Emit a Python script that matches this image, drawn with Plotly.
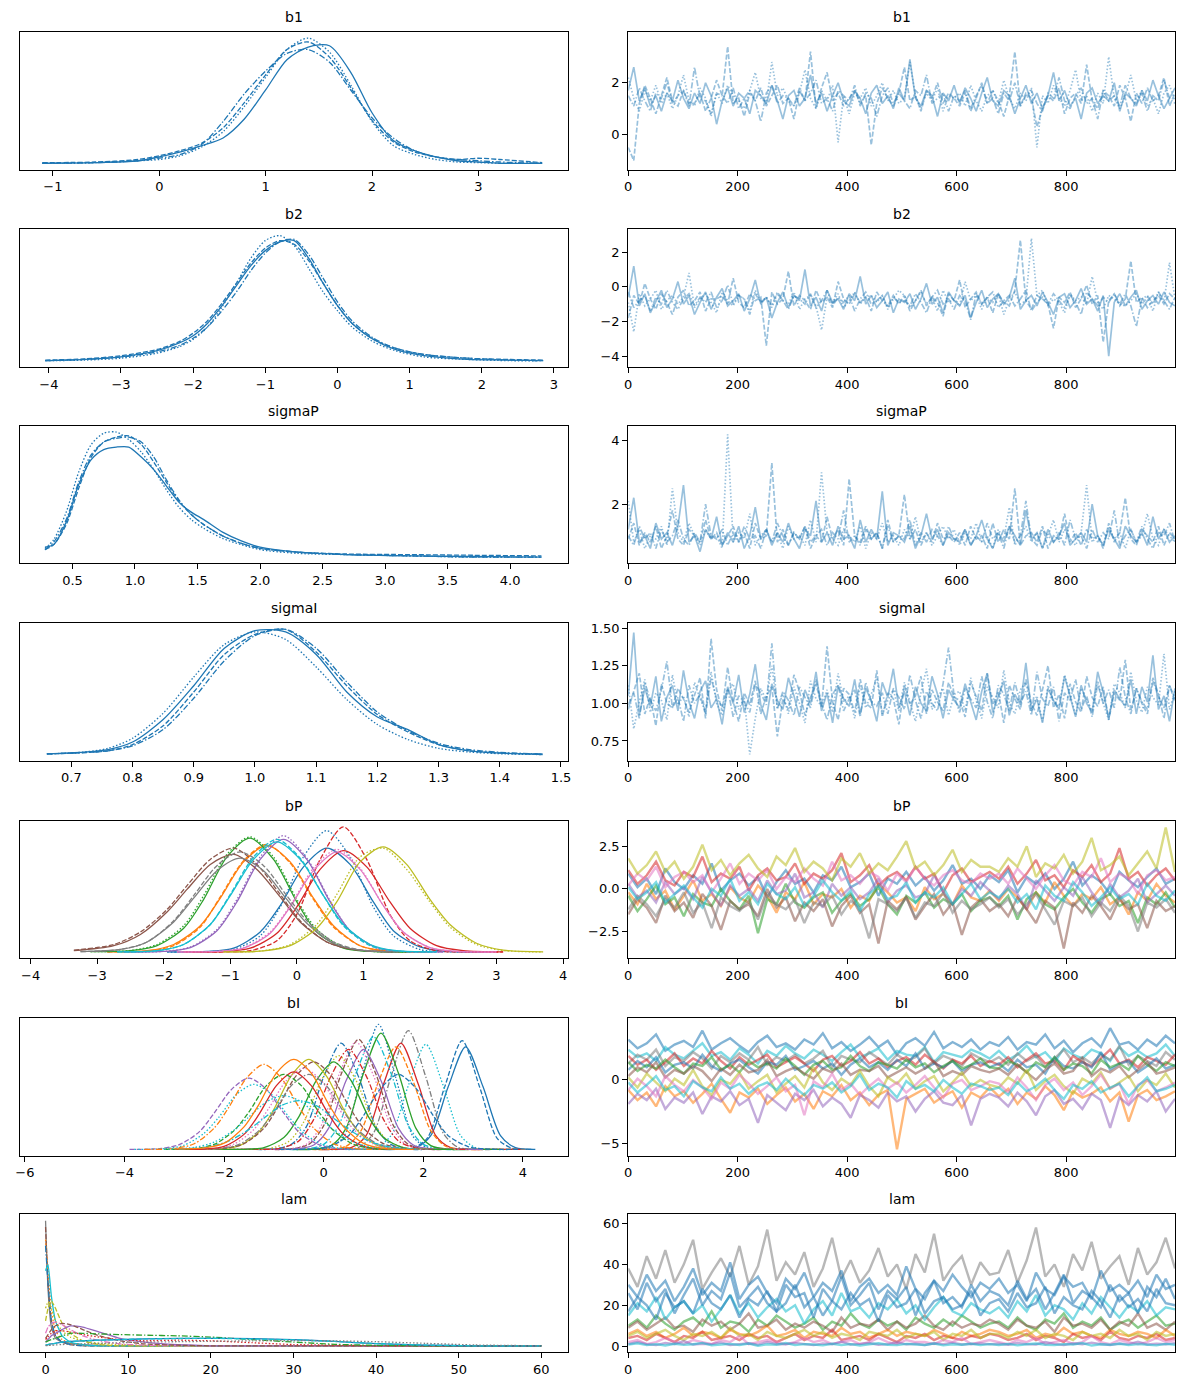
import numpy as np
import plotly.graph_objects as go
from plotly.subplots import make_subplots

# tab10 colours (matplotlib default cycle)
C0, C1, C2, C3, C4 = "#1f77b4", "#ff7f0e", "#2ca02c", "#d62728", "#9467bd"
C5, C6, C7, C8, C9 = "#8c564b", "#e377c2", "#7f7f7f", "#bcbd22", "#17becf"

# chain line styles: solid, dashed, dotted, dash-dot
CHAIN_DASH = ["solid", "5px,2px", "1.5px,2px", "6px,2px,1.5px,2px"]

TITLES = ["b1", "b2", "sigmaP", "sigmaI", "bP", "bI", "lam"]

# ---------------- b1 ----------------
B1_X = [-1.1, -0.6, -0.2, 0, 0.2, 0.4, 0.6, 0.8, 1.0, 1.2, 1.4, 1.6, 1.8, 2.0, 2.2, 2.4, 2.6, 2.8, 3.0, 3.2, 3.6]
B1_KDE = [
    [0, 0.005, 0.02, 0.05, 0.09, 0.14, 0.2, 0.35, 0.58, 0.82, 0.92, 0.93, 0.72, 0.4, 0.18, 0.1, 0.05, 0.02, 0.01, 0.0, 0],
    [0.005, 0.01, 0.03, 0.06, 0.1, 0.16, 0.28, 0.48, 0.7, 0.9, 0.96, 0.84, 0.6, 0.34, 0.17, 0.09, 0.05, 0.03, 0.04, 0.03, 0.005],
    [0, 0.005, 0.02, 0.03, 0.06, 0.13, 0.25, 0.45, 0.68, 0.9, 0.99, 0.88, 0.62, 0.33, 0.14, 0.07, 0.03, 0.01, 0.005, 0, 0],
    [0, 0.005, 0.02, 0.04, 0.07, 0.15, 0.33, 0.55, 0.73, 0.87, 0.9, 0.8, 0.58, 0.36, 0.2, 0.1, 0.05, 0.03, 0.02, 0.01, 0],
]
B1_TRACE = [
    [1.7, 2.6, 1.3, 1.8, 1.1, 1.5, 0.9, 1.6, 1.3, 2.1, 1.4, 1.0, 1.6, 1.2, 2.0, 1.5, 0.4, 1.3, 1.8, 1.1, 1.6, 1.4, 0.8, 1.7, 1.5, 1.2, 1.9, 1.3, 0.6, 1.5,
     1.7, 1.1, 1.4, 2.3, 1.2, 1.6, 0.9, 1.5, 2.0, 1.3, 1.1, 1.7, 1.4, 0.8, 1.6, 1.9, 1.2, 1.5, 1.0, 1.8, 1.3, 2.9, 1.4, 1.1, 1.7, 1.5, 0.7, 1.6, 1.3, 1.9,
     1.2, 1.8, 1.4, 0.9, 1.6, 2.2, 1.3, 1.1, 1.7, 1.5, 0.8, 1.4, 1.9, 1.2, 1.6, 1.0, 1.5, 2.4, 1.3, 1.7, 1.1, 1.4, 0.6, 1.6, 1.8, 1.2, 1.5, 1.3, 2.0, 0.9,
     1.6, 1.4, 1.1, 1.7, 1.3, 2.1, 1.5, 1.0, 1.4, 1.8],
    [-0.5, -1.0, 1.2, 1.9, 1.4, 0.8, 1.5, 2.2, 1.3, 1.1, 1.7, 1.2, 1.2, 1.6, 0.9, 1.4, 2.1, 1.5, 3.4, 1.2, 1.4, 0.7, 1.6, 1.3, 1.8, 1.1, 1.5, 1.9, 1.2, 1.4,
     0.6, 1.7, 1.3, 3.2, 1.0, 1.8, 2.4, 1.3, 1.6, 1.1, 1.4, 1.7, 1.2, 1.5, -0.4, 1.2, 1.8, 1.4, 1.1, 1.6, 2.6, 1.3, 1.5, 0.9, 1.7, 1.4, 2.0, 1.2, 1.6, 1.4,
     1.1, 1.6, 0.9, 1.4, 2.0, 1.2, 1.7, 1.3, 0.7, 1.5, 3.2, 1.1, 1.6, 1.4, 0.3, 1.0, 1.5, 1.3, 1.8, 0.8, 1.4, 1.6, 1.2, 2.7, 1.3, 1.0, 1.7, 1.5, 1.1, 1.9,
     1.4, 0.5, 1.6, 1.2, 1.8, 1.3, 1.5, 2.2, 1.1, 1.6],
    [2.2, 1.4, 0.9, 1.7, 1.3, 1.9, 1.2, 1.6, 1.0, 1.5, 2.3, 1.3, 1.1, 1.8, 1.4, 0.7, 1.6, 1.2, 1.9, 1.5, 1.3, 1.0, 1.7, 2.4, 1.4, 1.2, 2.8, 1.5, 1.8, 1.3,
     1.1, 1.6, 2.5, 1.4, 1.0, 1.7, 1.3, 1.9, -0.3, 1.5, 0.8, 1.6, 1.4, 1.8, 1.1, 1.5, 2.0, 1.3, 1.7, 1.2, 1.4, 2.8, 1.5, 1.0, 1.6, 1.3, 1.8, 0.9, 1.5, 1.4,
     1.6, 1.1, 1.9, 1.3, 0.9, 1.5, 1.7, 1.2, 2.1, 1.4, 1.0, 1.6, 1.3, 1.8, -0.5, 1.5, 1.2, 1.9, 1.4, 1.1, 1.7, 2.5, 1.3, 1.5, 0.9, 1.6, 1.2, 3.0, 1.4, 1.0,
     1.5, 2.3, 1.3, 1.7, 1.1, 1.4, 0.8, 1.6, 1.9, 1.3],
    [1.5, 1.1, 1.8, 1.3, 0.9, 1.6, 1.4, 2.0, 1.2, 1.5, 1.7, 1.1, 2.6, 1.4, 1.3, 0.8, 1.6, 1.5, 1.2, 1.8, 1.0, 1.4, 1.7, 1.3, 0.5, 1.6, 1.9, 1.2, 1.5, 1.4,
     1.1, 1.8, 1.3, 1.6, 2.1, 1.2, 1.4, 0.9, 1.7, 1.5, 1.3, 1.9, 1.1, 1.6, 1.4, 0.7, 1.5, 1.8, 1.2, 1.6, 1.3, 1.0, 1.7, 1.5, 2.3, 1.2, 1.4, 1.6, 0.9, 1.5,
     1.3, 1.7, 1.0, 1.5, 1.9, 1.2, 1.4, 0.8, 1.6, 1.3, 2.0, 1.1, 1.5, 1.7, 1.2, 0.9, 1.6, 1.4, 2.2, 1.3, 1.0, 1.5, 1.8, 1.2, 1.4, 0.6, 1.7, 1.3, 1.5, 1.1,
     1.9, 1.4, 1.2, 1.6, 0.9, 1.5, 1.3, 2.1, 1.4, 1.2],
]

# ---------------- b2 ----------------
B2_X = [-4.05, -3.5, -3, -2.5, -2.2, -2, -1.8, -1.6, -1.4, -1.2, -1.0, -0.8, -0.6, -0.4, -0.2, 0, 0.2, 0.5, 0.8, 1.2, 1.8, 2.4, 2.85]
B2_KDE = [
    [0, 0.01, 0.03, 0.08, 0.14, 0.2, 0.3, 0.44, 0.6, 0.76, 0.88, 0.95, 0.96, 0.82, 0.62, 0.44, 0.3, 0.17, 0.09, 0.04, 0.01, 0.005, 0],
    [0.005, 0.015, 0.04, 0.09, 0.15, 0.22, 0.32, 0.46, 0.62, 0.78, 0.9, 0.96, 0.93, 0.8, 0.62, 0.44, 0.3, 0.17, 0.1, 0.05, 0.02, 0.01, 0.005],
    [0, 0.005, 0.02, 0.06, 0.11, 0.17, 0.27, 0.43, 0.62, 0.82, 0.96, 1.0, 0.92, 0.74, 0.55, 0.4, 0.27, 0.15, 0.08, 0.03, 0.01, 0, 0],
    [0, 0.01, 0.03, 0.07, 0.12, 0.18, 0.27, 0.4, 0.55, 0.72, 0.86, 0.95, 0.97, 0.85, 0.66, 0.47, 0.32, 0.18, 0.1, 0.05, 0.02, 0.005, 0],
]
B2_TRACE = [
    [-0.6, 1.2, -1.1, -0.4, -1.5, -0.8, -0.2, -1.2, -0.7, 0.3, -1.0, -0.5, -1.6, -0.9, -0.3, -1.3, -0.6, -0.1, -1.1, -0.8, -0.4, -1.4, -0.7, 0.4, -1.0,
     -0.6, -1.8, -0.9, -0.3, -1.2, -0.5, -0.8, 1.0, -1.1, -0.6, -1.4, -0.2, -0.9, -0.7, -1.3, -0.4, -0.8, 0.6, -1.0, -0.5, -1.2, -0.8, -0.3, -1.5, -0.7,
     -0.9, -0.4, -1.3, -0.7, 0.2, -1.0, -0.6, -1.5, -0.3, -0.8, -1.1, -0.5, -1.8, -0.9, -0.2, -1.2, -0.7, -0.4, -1.0, -0.6, 0.5, -1.3, -0.8, -0.5, -1.1,
     -0.3, -0.9, -1.6, -0.6, -0.4, -1.2, -0.8, -0.1, -1.0, -0.7, -1.4, -0.5, -4.0, -0.9, -0.4, -1.1, -0.6, -0.2, -1.3, -0.8, -0.5, -1.0, -0.3, -0.9, -1.1],
    [-1.8, -0.5, -1.0, 0.2, -0.7, -1.3, -0.4, -0.9, -1.6, -0.6, -0.2, -1.1, -0.8, -0.3, -1.4, -0.7, -0.7, -0.5, -1.0, 0.5, -0.9, -1.2, -0.4, -0.8, -0.6,
     -3.4, -0.3, -1.0, -0.7, 0.9, -1.1, -0.5, -0.8, -1.3, -0.2, -0.9, -0.6, -1.2, 0.3, -0.7, -1.0, -0.4, -0.9, -0.6, -1.4, -0.3, -0.8, -1.1, -0.5, -1.0,
     -0.5, -1.4, -0.8, -0.2, -1.1, -0.6, -0.9, -1.7, -0.4, -0.8, 0.4, -1.2, -0.7, -0.3, -1.0, -0.6, -1.5, -0.4, -0.9, -1.1, -0.2, 2.7, -0.8, -1.3, -0.5,
     -0.7, -1.0, -2.4, -0.6, -0.9, -0.3, -1.2, -0.7, 0.1, -1.0, -0.5, -3.2, -0.8, -0.4, -1.1, -0.7, 1.5, -0.9, -0.6, -1.2, -0.8, -0.5, -1.0, -0.4, -0.7],
    [-0.9, -2.6, -0.4, -1.1, -0.7, -0.2, -1.3, -0.8, -0.5, -1.0, -0.6, 0.8, -1.2, -0.7, -0.4, -0.9, -1.5, -0.3, -0.8, -1.1, -0.5, -0.7, -1.4, -0.2, -0.9,
     -0.6, -1.2, -0.4, -0.8, -1.0, -0.3, -1.3, -0.7, -0.5, -1.1, -2.5, -0.6, -0.9, -0.4, -1.2, -0.8, -0.3, -1.0, -0.6, -0.5, -0.9, -0.5, -1.3, -0.7, -0.2,
     -0.5, -1.2, -0.8, -0.3, -1.0, -0.6, -1.4, -0.2, -0.9, -0.7, -1.1, 0.3, -0.8, -0.5, -1.3, -0.6, -0.9, -0.4, -1.6, -0.7, -0.3, -1.0, -0.8, 2.8, -0.5,
     -0.2, -1.1, -0.7, -0.9, -1.5, -0.4, -0.8, -0.6, -1.0, 0.6, -0.9, -1.3, -0.5, -0.7, -1.0, -1.1, -0.8, -0.4, -1.0, -0.6, -1.4, -0.3, -0.9, 1.4, -0.7],
    [-0.3, -1.2, -0.8, -0.5, -1.4, -0.6, -1.0, -0.2, -0.9, -1.3, -0.7, -0.4, -1.1, -0.6, -0.9, -0.3, -1.2, -0.8, 0.1, -1.0, -0.5, -0.7, -1.6, -0.4, -0.9,
     -0.6, -1.1, -0.3, -0.8, -1.3, -0.5, -0.7, -1.0, -0.4, -1.2, -0.8, -0.2, -1.1, -0.6, -0.9, -0.5, -1.4, -0.7, -0.3, -1.0, -0.8, -0.5, -1.2, -0.6, -0.9,
     -0.8, -1.1, -0.4, -0.9, -1.5, -0.6, -0.2, -1.0, -0.7, -1.3, -0.5, -0.8, -1.9, -0.4, -1.0, -0.6, -0.3, -1.2, -0.8, -0.5, -1.1, -0.7, -0.2, -1.4, -0.9,
     -0.6, -1.0, -0.4, -0.8, -1.2, -0.5, -0.9, -1.6, -0.3, -0.7, -1.1, -0.6, -0.9, -0.4, -1.0, -0.4, -1.1, -2.3, -0.7, -0.5, -1.0, -0.3, -0.8, -1.3, -0.6],
]

# ---------------- sigmaP ----------------
SP_X = [0.28, 0.35, 0.45, 0.55, 0.65, 0.75, 0.85, 0.95, 1.05, 1.15, 1.25, 1.35, 1.45, 1.55, 1.7, 1.85, 2.0, 2.3, 2.7, 3.2, 3.7, 4.25]
SP_KDE = [
    [0.08, 0.1, 0.28, 0.58, 0.78, 0.86, 0.88, 0.88, 0.8, 0.7, 0.57, 0.44, 0.36, 0.3, 0.2, 0.13, 0.08, 0.04, 0.02, 0.01, 0.005, 0],
    [0.06, 0.1, 0.26, 0.55, 0.8, 0.92, 0.96, 0.97, 0.9, 0.76, 0.6, 0.45, 0.34, 0.26, 0.17, 0.11, 0.07, 0.04, 0.025, 0.02, 0.015, 0.01],
    [0.07, 0.14, 0.36, 0.68, 0.9, 0.99, 1.0, 0.94, 0.84, 0.7, 0.54, 0.4, 0.3, 0.23, 0.15, 0.1, 0.06, 0.03, 0.02, 0.01, 0, 0],
    [0.06, 0.12, 0.3, 0.6, 0.82, 0.92, 0.95, 0.96, 0.92, 0.8, 0.62, 0.46, 0.34, 0.26, 0.17, 0.11, 0.07, 0.04, 0.02, 0.01, 0, 0],
]
SP_TRACE = [
    [1.2, 2.2, 0.8, 1.0, 0.6, 1.4, 0.9, 1.1, 0.7, 1.3, 2.6, 0.8, 1.0, 0.5, 1.2, 0.9, 1.6, 0.7, 1.1, 0.8, 1.3, 0.6, 1.0, 1.9, 0.9, 1.2, 0.7, 1.1, 0.8, 1.4,
     0.9, 0.6, 1.2, 1.0, 2.1, 0.8, 1.1, 0.7, 1.3, 0.9, 1.0, 0.6, 1.5, 0.8, 1.2, 0.9, 2.4, 0.7, 1.1, 1.0, 0.8, 1.3, 0.6, 1.0, 1.7, 0.9, 1.2, 0.7, 1.1, 0.9,
     0.8, 1.2, 0.7, 1.0, 1.5, 0.9, 0.6, 1.1, 0.8, 1.3, 1.0, 0.7, 1.8, 0.9, 1.1, 0.6, 1.2, 0.8, 1.0, 1.4, 0.7, 0.9, 1.1, 0.8, 2.0, 1.0, 0.7, 1.2, 0.9, 0.6,
     1.3, 1.0, 0.8, 1.1, 0.7, 1.6, 0.9, 1.2, 0.8, 1.0],
    [0.9, 1.4, 0.7, 1.1, 0.8, 1.3, 0.6, 1.0, 1.8, 0.9, 0.7, 1.2, 1.0, 0.8, 1.5, 0.9, 1.1, 0.7, 1.0, 1.3, 0.8, 1.1, 0.6, 1.4, 0.9, 1.0, 3.3, 0.8, 1.2, 0.7,
     1.1, 0.9, 1.3, 0.6, 1.0, 0.8, 1.6, 0.9, 1.2, 0.7, 2.8, 1.0, 0.8, 1.3, 0.9, 1.1, 0.6, 1.5, 0.8, 1.0, 2.3, 0.9, 1.2, 0.7, 1.1, 0.8, 1.4, 0.9, 1.0, 0.8,
     1.1, 0.7, 1.3, 0.9, 1.0, 0.6, 1.4, 0.8, 1.2, 0.9, 2.5, 0.7, 1.0, 1.1, 0.8, 1.3, 0.6, 1.0, 0.9, 1.7, 0.8, 1.1, 0.7, 1.2, 0.9, 1.0, 0.6, 1.4, 0.8, 1.1,
     2.2, 0.9, 0.7, 1.2, 1.0, 0.8, 1.3, 0.7, 1.1, 0.9],
    [2.1, 0.8, 1.2, 0.6, 1.0, 0.9, 1.3, 0.7, 2.5, 1.1, 0.8, 1.4, 1.0, 0.7, 1.2, 0.9, 1.0, 0.6, 4.2, 0.8, 1.1, 0.9, 1.7, 0.7, 1.0, 1.2, 0.8, 1.1, 0.6, 1.3,
     0.9, 1.0, 0.7, 1.5, 0.8, 3.0, 1.1, 0.9, 0.7, 1.2, 1.0, 0.8, 1.3, 0.6, 1.1, 0.9, 1.4, 0.8, 1.0, 0.7, 1.2, 0.9, 1.6, 0.8, 1.1, 0.7, 1.0, 1.3, 0.9, 1.2,
     0.7, 1.1, 0.9, 1.4, 0.8, 1.0, 0.6, 1.2, 0.9, 1.9, 0.7, 1.0, 1.3, 0.8, 1.1, 0.6, 1.0, 1.5, 0.8, 1.2, 0.9, 0.7, 1.1, 2.6, 0.8, 1.0, 0.7, 1.3, 0.9, 1.1,
     0.6, 1.2, 0.8, 1.0, 1.7, 0.9, 0.7, 1.2, 1.0, 0.8],
    [1.0, 0.7, 1.3, 0.9, 1.1, 0.6, 1.2, 0.8, 1.0, 1.5, 0.9, 0.7, 1.1, 0.8, 2.0, 1.0, 0.9, 1.2, 0.7, 1.1, 0.8, 1.3, 0.9, 1.0, 0.6, 1.2, 0.8, 1.4, 1.0, 0.7,
     1.1, 0.9, 1.3, 0.8, 1.0, 1.2, 0.7, 1.1, 0.9, 1.8, 0.8, 1.0, 0.7, 1.2, 0.9, 1.1, 0.6, 1.3, 0.8, 1.0, 0.9, 1.5, 0.7, 1.1, 0.8, 1.2, 1.0, 0.7, 1.3, 0.9,
     0.9, 1.2, 0.7, 1.0, 0.8, 1.4, 0.9, 1.1, 0.6, 1.3, 0.8, 1.0, 2.1, 0.9, 0.7, 1.2, 1.0, 0.8, 1.1, 0.7, 1.5, 0.9, 1.0, 0.6, 1.2, 0.8, 1.1, 0.9, 1.8, 0.7,
     1.0, 1.2, 0.8, 1.3, 0.9, 0.6, 1.1, 1.0, 1.4, 0.8],
]

# ---------------- sigmaI ----------------
SI_X = [0.66, 0.72, 0.76, 0.8, 0.85, 0.9, 0.95, 1.0, 1.05, 1.1, 1.15, 1.2, 1.25, 1.3, 1.35, 1.41, 1.47]
SI_KDE = [
    [0.005, 0.02, 0.04, 0.1, 0.28, 0.55, 0.85, 0.99, 0.98, 0.8, 0.5, 0.3, 0.2, 0.08, 0.03, 0.01, 0],
    [0.005, 0.015, 0.03, 0.08, 0.23, 0.5, 0.8, 0.96, 1.0, 0.82, 0.55, 0.32, 0.18, 0.08, 0.03, 0.01, 0.005],
    [0.005, 0.02, 0.05, 0.13, 0.33, 0.62, 0.88, 0.98, 0.92, 0.7, 0.44, 0.24, 0.12, 0.05, 0.02, 0.005, 0],
    [0.005, 0.015, 0.03, 0.07, 0.2, 0.45, 0.75, 0.95, 1.0, 0.85, 0.58, 0.34, 0.19, 0.09, 0.04, 0.015, 0.005],
]
SI_TRACE = [
    [1.05, 1.47, 0.92, 1.10, 0.98, 1.18, 0.88, 1.04, 1.12, 0.95, 1.22, 1.01, 0.90, 1.08, 1.15, 0.97, 1.03, 0.86, 1.11, 1.00, 1.19, 0.94, 1.06, 1.26,
     0.99, 0.89, 1.13, 1.02, 0.96, 1.17, 1.05, 0.91, 1.09, 1.00, 1.21, 0.95, 1.07, 0.87, 1.12, 1.03, 0.98, 1.16, 0.93, 1.10, 1.02, 0.88, 1.14, 1.04,
     1.23, 0.97, 1.08, 0.92, 1.11, 1.00, 0.95, 1.18, 1.06, 0.90, 1.09, 1.02, 0.97, 1.13, 1.01, 0.89, 1.08, 1.20, 0.94, 1.04, 1.15, 0.92, 1.06, 0.99,
     1.27, 0.95, 1.03, 0.87, 1.10, 1.02, 0.96, 1.18, 1.05, 0.91, 1.12, 1.00, 0.94, 1.21, 1.07, 0.90, 1.09, 1.03, 0.98, 1.16, 0.93, 1.11, 1.01, 1.32,
     0.96, 1.05, 0.88, 1.10],
    [0.96, 1.08, 1.20, 0.93, 1.04, 0.85, 1.13, 1.00, 0.97, 1.10, 1.03, 0.94, 1.06, 1.17, 0.90, 1.43, 1.09, 0.95, 1.24, 1.01, 0.88, 1.07, 0.99, 1.15,
     0.93, 1.05, 1.11, 0.78, 1.03, 0.96, 1.19, 1.08, 0.92, 1.04, 1.13, 0.98, 1.38, 1.01, 0.89, 1.10, 1.06, 0.94, 1.16, 1.00, 0.97, 1.22, 0.91, 1.07,
     1.03, 0.86, 1.12, 0.99, 1.05, 1.18, 0.93, 1.09, 1.01, 0.95, 1.14, 1.04, 1.02, 0.91, 1.14, 1.05, 0.95, 1.20, 0.99, 1.08, 0.87, 1.12, 1.03, 0.96,
     1.16, 1.00, 0.92, 1.09, 1.25, 0.97, 1.06, 0.90, 1.13, 1.01, 0.94, 1.18, 1.04, 0.98, 1.11, 0.89, 1.07, 1.02, 1.29, 0.95, 1.10, 1.00, 0.93, 1.15,
     1.05, 0.97, 1.12, 1.01],
    [1.12, 0.83, 1.01, 1.16, 0.94, 1.07, 1.02, 0.89, 1.19, 0.99, 1.05, 0.91, 1.14, 1.03, 0.95, 1.21, 1.00, 0.92, 1.08, 1.13, 0.96, 1.04, 0.66, 0.90,
     1.10, 1.02, 1.25, 0.97, 1.06, 0.93, 1.11, 1.00, 0.87, 1.15, 1.03, 0.98, 1.09, 0.94, 1.20, 1.01, 1.05, 0.90, 1.12, 0.97, 1.06, 1.17, 0.93, 1.02,
     1.09, 0.95, 1.14, 1.01, 0.88, 1.07, 1.23, 0.96, 1.04, 1.10, 0.92, 1.06, 1.08, 0.95, 1.17, 1.02, 0.90, 1.11, 1.04, 0.97, 1.22, 1.00, 0.93, 1.09,
     1.14, 0.96, 1.05, 0.88, 1.12, 1.01, 0.98, 1.19, 1.06, 0.92, 1.10, 1.03, 0.95, 1.15, 1.00, 0.89, 1.13, 1.07, 0.97, 1.21, 1.02, 0.94, 1.11, 1.04,
     0.99, 1.33, 0.96, 1.08],
    [0.99, 1.07, 0.90, 1.14, 1.02, 0.95, 1.09, 1.28, 0.97, 1.04, 0.88, 1.12, 1.00, 1.06, 0.93, 1.17, 1.03, 0.98, 1.10, 0.91, 1.05, 1.01, 0.94, 1.13,
     1.07, 0.99, 1.40, 0.96, 1.08, 1.02, 0.92, 1.11, 1.04, 0.97, 1.16, 1.00, 0.89, 1.06, 1.12, 0.95, 1.03, 1.09, 0.91, 1.14, 1.01, 0.98, 1.07, 0.93,
     1.10, 1.04, 0.96, 1.19, 1.02, 0.90, 1.08, 1.00, 0.95, 1.13, 1.37, 1.05, 0.94, 1.10, 1.03, 0.97, 1.18, 1.01, 0.90, 1.12, 1.06, 0.95, 1.14, 1.00,
     1.08, 0.92, 1.21, 1.03, 0.98, 1.11, 0.88, 1.07, 1.02, 1.16, 0.96, 1.05, 0.91, 1.13, 1.00, 1.09, 0.97, 1.24, 1.04, 0.93, 1.10, 1.01, 0.96, 1.17,
     1.06, 0.90, 1.12, 1.03],
]

# KDE heights for vector parameters are read at these offsets from each mode
KDE_OFFSETS = [-2.4, -1.8, -1.4, -1.0, -0.7, -0.35, 0, 0.35, 0.7, 1.0, 1.4, 1.8, 2.4]

# ---------------- bP (10 components) ----------------
BP_COLOR = [C0, C1, C2, C3, C4, C5, C6, C7, C8, C9]
BP_CENTER = [0.45, -0.45, -0.7, 0.7, -0.2, -0.95, 0.6, -0.85, 1.3, -0.3]
BP_KDE_A = [
    [0, 0.004, 0.03, 0.16, 0.37, 0.68, 0.83, 0.70, 0.40, 0.17, 0.04, 0.005, 0],
    [0, 0.01, 0.06, 0.21, 0.43, 0.72, 0.85, 0.72, 0.43, 0.21, 0.05, 0.008, 0],
    [0.002, 0.01, 0.05, 0.19, 0.42, 0.76, 0.91, 0.74, 0.4, 0.16, 0.03, 0.004, 0],
    [0, 0.003, 0.03, 0.15, 0.36, 0.66, 0.81, 0.68, 0.4, 0.19, 0.05, 0.01, 0],
    [0, 0.004, 0.035, 0.17, 0.4, 0.74, 0.9, 0.74, 0.4, 0.17, 0.035, 0.004, 0],
    [0.01, 0.05, 0.14, 0.32, 0.5, 0.7, 0.78, 0.66, 0.44, 0.24, 0.08, 0.02, 0],
    [0, 0.004, 0.03, 0.15, 0.36, 0.65, 0.8, 0.66, 0.37, 0.16, 0.035, 0.005, 0],
    [0.002, 0.02, 0.08, 0.24, 0.43, 0.65, 0.75, 0.65, 0.42, 0.23, 0.07, 0.015, 0],
    [0, 0.008, 0.05, 0.19, 0.4, 0.72, 0.84, 0.7, 0.42, 0.22, 0.07, 0.015, 0],
    [0.001, 0.01, 0.06, 0.22, 0.45, 0.74, 0.88, 0.74, 0.45, 0.22, 0.06, 0.01, 0.001],
]
BP_KDE_B = [
    [0, 0.002, 0.02, 0.13, 0.36, 0.76, 0.97, 0.76, 0.36, 0.13, 0.02, 0.002, 0],
    [0, 0.008, 0.05, 0.2, 0.44, 0.73, 0.86, 0.71, 0.42, 0.2, 0.05, 0.006, 0],
    [0.003, 0.012, 0.06, 0.21, 0.45, 0.78, 0.92, 0.76, 0.42, 0.18, 0.04, 0.005, 0],
    [0, 0, 0.01, 0.09, 0.3, 0.74, 1.0, 0.74, 0.3, 0.09, 0.01, 0, 0],
    [0, 0.005, 0.04, 0.18, 0.42, 0.76, 0.93, 0.75, 0.41, 0.17, 0.03, 0.003, 0],
    [0.015, 0.06, 0.16, 0.34, 0.53, 0.74, 0.83, 0.7, 0.46, 0.25, 0.08, 0.02, 0],
    [0, 0.005, 0.035, 0.16, 0.37, 0.67, 0.82, 0.67, 0.37, 0.16, 0.035, 0.005, 0],
    [0.003, 0.02, 0.08, 0.25, 0.45, 0.69, 0.8, 0.69, 0.45, 0.25, 0.08, 0.017, 0],
    [0, 0.01, 0.06, 0.22, 0.46, 0.76, 0.83, 0.66, 0.4, 0.2, 0.06, 0.012, 0],
    [0.001, 0.01, 0.06, 0.22, 0.46, 0.76, 0.9, 0.75, 0.45, 0.21, 0.05, 0.008, 0],
]
BP_TRACE = [
    [0.9, 0.1, 0.6, -0.3, 1.2, 0.4, 0.0, 0.8, 0.3, 1.5, -0.1, 0.5, 0.9, 0.2, 0.7, -0.5, 0.4, 1.1, 0.3, 0.6, -0.2, 0.8, 0.5, 1.3, 0.1, 0.4, 0.9, -0.4, 0.6, 0.3,
     1.0, 0.2, 0.7, -0.1, 0.5, 1.4, 0.3, 0.6, 0.0, 0.8, 0.4, 1.1, -0.2, 0.7, 0.3, 0.9, 0.0, 0.6, 1.6, 0.2, 0.8, 0.4, -0.3, 1.0, 0.5, 0.1, 0.7, 1.2, 0.3, 0.6],
    [-0.2, -0.9, 0.3, -0.6, -0.1, -1.2, -0.4, 0.5, -0.7, -0.3, -1.0, 0.1, -0.5, -0.8, 0.2, -0.4, -1.4, -0.2, -0.6, 0.4, -0.9, -0.3, -0.5, 0.0, -1.1, -0.4,
     -0.7, 0.3, -0.2, -0.8, -0.5, -1.3, 0.1, -0.6, -0.3, -0.9, 0.2, -0.5, -0.7, -0.1, -0.7, 0.0, -0.5, -1.2, -0.2, -0.8, 0.4, -0.4, -1.0, -0.3, -0.6, 0.1,
     -0.9, -0.5, -1.5, -0.2, -0.7, 0.3, -0.4, -0.8],
    [-0.4, -1.3, -0.6, 0.2, -0.9, -0.5, -1.6, -0.3, -0.8, -1.0, 0.0, -0.7, -1.2, -0.4, -2.6, -0.6, -0.9, 0.3, -0.8, -1.1, -0.5, -0.2, -1.4, -0.7, -0.3,
     -1.0, -0.6, 0.1, -0.9, -1.5, -0.4, -0.8, -0.2, -1.1, -0.6, -0.9, -0.3, -1.3, -0.7, -0.5, -1.0, -0.4, -1.8, -0.6, -0.2, -0.9, -1.2, -0.5, 0.0, -0.8,
     -1.4, -0.6, -0.3, -1.0, -0.7, -2.0, -0.5, -0.9, -0.2, -1.1],
    [1.1, 0.3, 0.8, 1.6, 0.5, 0.2, 1.0, 0.7, 1.9, 0.4, 0.9, 0.6, 1.3, -0.1, 0.8, 1.2, 0.5, 0.7, 1.5, 0.3, 0.9, 0.6, 1.1, 2.1, 0.4, 0.8, 1.4, 0.2, 0.7, 1.0,
     0.5, 1.3, 0.6, 0.9, -0.2, 0.8, 1.2, 0.4, 0.7, 1.0, 0.6, 1.3, 0.3, 0.9, 1.7, 0.5, 0.8, 0.1, 1.1, 0.7, 1.4, 0.4, 0.9, 2.4, 0.6, 1.0, 0.2, 0.8, 1.2, 0.5],
    [0.3, -0.5, -0.1, -0.8, 0.4, -0.3, 0.1, -0.6, 0.7, -0.2, -1.0, 0.2, -0.4, 0.0, -0.7, 0.5, -0.3, -0.1, 0.9, -0.5, -0.2, -1.1, 0.3, -0.4, 0.1, -0.6,
     -0.2, 0.6, -0.8, -0.1, 0.2, -0.5, -0.3, 0.8, -0.2, -0.9, 0.0, -0.4, 0.4, -0.1, -0.6, 0.2, -0.3, -1.2, 0.5, -0.1, -0.7, 0.1, -0.4, 0.7, -0.2, -0.9,
     0.3, -0.5, -0.1, 0.6, -0.8, -0.3, 0.2, -0.4],
    [-1.5, -0.6, -1.1, -2.0, -0.4, -1.3, -0.8, -1.7, -0.3, -1.0, -2.4, -0.7, -1.2, -0.9, -1.6, 0.0, -1.1, -0.5, -1.9, -0.8, -1.3, -0.6, -2.2, -1.0, -0.4,
     -1.4, -0.9, -3.2, -0.7, -1.2, -0.5, -1.8, -1.0, -0.3, -1.5, -0.8, -2.7, -1.1, -0.6, -1.3, -0.9, -1.6, -0.5, -1.2, -2.0, -0.7, -1.1, -3.5, -0.8, -1.4,
     -0.4, -1.0, -1.8, -0.6, -1.2, -0.9, -2.3, -0.7, -1.3, -1.0],
    [0.2, 0.9, 0.5, 1.3, 0.1, 0.7, 1.0, 0.4, 0.8, -0.2, 0.6, 1.5, 0.3, 0.9, 0.5, 1.1, 0.0, 0.7, 0.4, 1.2, 0.6, 0.2, 1.6, 0.5, 0.8, 0.3, 1.0, 0.7, -0.1, 0.9,
     0.4, 1.3, 0.6, 0.2, 0.8, 1.1, 0.5, 0.3, 0.9, 0.6, 0.9, 0.3, 1.2, 0.6, 0.0, 0.8, 1.4, 0.5, 0.2, 1.0, 0.7, 1.8, 0.4, 0.9, 0.6, -0.3, 0.8, 1.1, 0.5, 0.7],
    [-1.2, -0.4, -0.9, -1.6, -0.6, -1.1, -0.2, -1.4, -0.8, -2.3, -0.5, -1.0, -1.3, -0.7, -1.8, -0.3, -0.9, -1.2, -0.6, -2.0, -0.8, -1.0, -0.4, -1.5,
     -0.7, -1.1, -2.9, -0.6, -0.9, -1.3, -0.5, -1.7, -0.8, -1.0, -0.2, -1.4, -0.7, -1.2, -0.9, -0.5, -1.1, -0.6, -1.5, -0.9, -0.3, -1.2, -2.1, -0.7,
     -1.0, -0.5, -1.6, -0.8, -1.3, -0.4, -1.0, -2.5, -0.8, -1.1, -0.6, -1.4],
    [1.8, 0.9, 1.4, 2.2, 1.0, 1.6, 0.6, 1.3, 2.6, 1.1, 1.7, 0.8, 1.5, 2.0, 1.2, 0.7, 1.9, 1.4, 2.4, 1.0, 1.6, 1.2, 0.5, 1.8, 1.3, 2.1, 0.9, 1.5, 1.1, 1.9,
     2.8, 1.2, 1.6, 0.8, 1.4, 2.3, 1.0, 1.7, 1.3, 1.3, 1.0, 1.8, 1.3, 2.5, 0.7, 1.5, 1.2, 2.0, 0.9, 1.6, 3.0, 1.1, 1.4, 1.9, 0.8, 1.5, 2.2, 1.2, 3.6, 1.0],
    [0.1, -0.6, -0.2, 0.4, -0.8, -0.3, 0.2, -0.5, -1.1, 0.0, -0.4, 0.6, -0.7, -0.2, -0.9, 0.3, -0.3, -0.6, 0.1, -1.0, -0.4, 0.5, -0.2, -0.7, -0.1, -1.3,
     -0.3, 0.2, -0.6, -0.4, 0.4, -0.8, -0.2, -0.5, 0.1, -0.9, -0.3, 0.3, -0.6, -0.2, -0.5, 0.0, -0.8, -0.3, -1.2, 0.2, -0.4, -0.7, 0.4, -0.2, -1.0, -0.5,
     0.1, -0.6, -0.3, -0.9, 0.3, -0.4, -0.7, -0.1],
]

# ---------------- bI (many components) ----------------
BI_COLOR = [C0, C0, C9, C7, C3, C1, C0, C9, C2, C5, C6, C0, C4, C0, C8,
            C3, C2, C4, C9, C1, C8, C5, C6, C7, C3, C2, C9, C9, C1]
BI_CENTER = [2.85, 2.78, 2.05, 1.7, 1.55, 1.45, 1.1, 1.0, 1.15, 0.7, 0.65, 0.35, 0.8, 1.5, 0.3,
             0.5, 0.2, -1.5, -1.4, -1.2, -0.3, -0.2, -0.4, -0.3, -0.6, -0.8, -0.8, -0.5, -0.6]
BI_KDE = [
    [0, 0, 0, 0.014, 0.11, 0.5, 0.82, 0.5, 0.11, 0.014, 0, 0, 0],
    [0, 0, 0, 0.01, 0.09, 0.5, 0.87, 0.5, 0.09, 0.01, 0, 0, 0],
    [0, 0, 0, 0.014, 0.11, 0.51, 0.84, 0.51, 0.11, 0.014, 0, 0, 0],
    [0, 0, 0, 0.016, 0.13, 0.58, 0.95, 0.58, 0.13, 0.016, 0, 0, 0],
    [0, 0, 0, 0.014, 0.11, 0.52, 0.85, 0.52, 0.11, 0.014, 0, 0, 0],
    [0, 0, 0, 0.025, 0.15, 0.54, 0.82, 0.54, 0.15, 0.025, 0, 0, 0],
    [0, 0, 0, 0.01, 0.1, 0.57, 1.0, 0.57, 0.1, 0.01, 0, 0, 0],
    [0, 0, 0.002, 0.04, 0.19, 0.61, 0.9, 0.61, 0.19, 0.04, 0.002, 0, 0],
    [0, 0, 0, 0.03, 0.17, 0.61, 0.93, 0.61, 0.17, 0.03, 0, 0, 0],
    [0, 0, 0.002, 0.04, 0.19, 0.6, 0.88, 0.6, 0.19, 0.04, 0.002, 0, 0],
    [0, 0, 0.002, 0.04, 0.19, 0.59, 0.86, 0.59, 0.19, 0.04, 0.002, 0, 0],
    [0, 0, 0.002, 0.04, 0.18, 0.58, 0.85, 0.58, 0.18, 0.04, 0.002, 0, 0],
    [0, 0, 0.002, 0.035, 0.17, 0.55, 0.8, 0.55, 0.17, 0.035, 0.002, 0, 0],
    [0, 0.003, 0.023, 0.11, 0.27, 0.49, 0.6, 0.49, 0.27, 0.11, 0.023, 0.003, 0],
    [0, 0, 0.006, 0.064, 0.22, 0.55, 0.75, 0.55, 0.22, 0.064, 0.006, 0, 0],
    [0, 0, 0.006, 0.068, 0.24, 0.59, 0.8, 0.59, 0.24, 0.068, 0.006, 0, 0],
    [0, 0.001, 0.014, 0.095, 0.26, 0.55, 0.7, 0.55, 0.26, 0.095, 0.014, 0.001, 0],
    [0, 0.006, 0.038, 0.14, 0.29, 0.48, 0.57, 0.48, 0.29, 0.14, 0.038, 0.006, 0],
    [0, 0.006, 0.034, 0.13, 0.26, 0.44, 0.52, 0.44, 0.26, 0.13, 0.034, 0.006, 0],
    [0, 0.007, 0.045, 0.17, 0.34, 0.57, 0.68, 0.57, 0.34, 0.17, 0.045, 0.007, 0],
    [0, 0.004, 0.028, 0.14, 0.32, 0.59, 0.72, 0.59, 0.32, 0.14, 0.028, 0.004, 0],
    [0, 0.008, 0.046, 0.17, 0.35, 0.59, 0.7, 0.59, 0.35, 0.17, 0.046, 0.008, 0],
    [0, 0.007, 0.043, 0.16, 0.33, 0.55, 0.65, 0.55, 0.33, 0.16, 0.043, 0.007, 0],
    [0, 0.007, 0.04, 0.15, 0.3, 0.51, 0.6, 0.51, 0.3, 0.15, 0.04, 0.007, 0],
    [0, 0.003, 0.024, 0.12, 0.28, 0.51, 0.62, 0.51, 0.28, 0.12, 0.024, 0.003, 0],
    [0, 0.007, 0.04, 0.15, 0.3, 0.51, 0.6, 0.51, 0.3, 0.15, 0.04, 0.007, 0],
    [0.001, 0.016, 0.058, 0.155, 0.26, 0.38, 0.43, 0.38, 0.26, 0.155, 0.058, 0.016, 0.001],
    [0.002, 0.022, 0.068, 0.16, 0.25, 0.35, 0.39, 0.35, 0.25, 0.16, 0.068, 0.022, 0.002],
    [0.004, 0.012, 0.05, 0.18, 0.36, 0.61, 0.72, 0.61, 0.36, 0.18, 0.048, 0.008, 0],
]
BI_X_LIMITS = [-5.55, 4.4]
BI_TRACE_COLOR = [C0, C9, C7, C3, C0, C2, C5, C1, C4, C8, C6, C9]
BI_TRACE = [
    [3.2, 2.5, 2.9, 3.6, 2.3, 2.8, 3.1, 2.6, 3.9, 2.4, 2.9, 3.3, 2.7, 2.2, 3.0, 3.5, 2.6, 2.9, 2.4, 3.2, 2.8, 3.7, 2.5, 3.0, 2.3, 2.8, 3.4, 2.6, 3.1, 2.0,
     2.9, 3.3, 2.7, 3.8, 2.5, 3.0, 2.6, 3.2, 2.4, 3.0, 2.7, 3.4, 2.4, 3.0, 2.8, 3.6, 2.5, 3.1, 2.2, 2.9, 3.3, 2.6, 4.1, 2.8, 3.0, 2.4, 3.2, 2.7, 3.5, 2.9],
    [2.4, 1.8, 2.1, 1.5, 2.6, 2.0, 1.7, 2.3, 2.9, 1.9, 2.2, 1.6, 2.5, 2.0, 1.3, 2.3, 1.9, 2.7, 2.1, 1.7, 2.4, 2.0, 1.5, 2.2, 2.8, 1.8, 2.1, 2.5, 1.6, 2.3,
     2.0, 1.9, 2.6, 1.4, 2.2, 2.0, 1.8, 2.4, 2.1, 1.7, 2.3, 1.6, 2.0, 2.7, 1.8, 2.2, 1.4, 2.5, 2.0, 1.7, 2.4, 2.1, 1.5, 2.6, 1.9, 2.3, 1.8, 2.1, 2.8, 1.9],
    [1.3, 2.0, 1.6, 2.4, 1.1, 1.8, 1.5, 2.2, 1.7, 0.9, 1.9, 1.4, 2.1, 1.6, 2.6, 1.2, 1.8, 1.5, 2.0, 1.3, 1.7, 2.3, 1.0, 1.9, 1.6, 1.4, 2.2, 1.7, 1.2, 2.0,
     1.5, 1.8, 2.5, 1.3, 1.9, 1.6, 1.1, 2.1, 1.7, 1.4, 1.8, 1.2, 2.1, 1.5, 1.9, 1.0, 1.7, 2.4, 1.4, 1.8, 1.3, 2.0, 1.6, 2.7, 1.2, 1.9, 1.5, 1.1, 2.2, 1.6],
    [1.9, 1.2, 1.6, 0.8, 1.4, 2.1, 1.1, 1.7, 1.3, 2.3, 1.5, 0.9, 1.8, 1.2, 1.6, 2.0, 1.0, 1.4, 1.8, 1.3, 0.7, 1.6, 1.9, 1.1, 1.5, 2.2, 1.3, 1.7, 1.0, 1.5,
     1.8, 1.2, 2.0, 1.4, 0.9, 1.6, 1.3, 1.9, 1.1, 1.5, 1.2, 1.8, 1.0, 1.6, 2.1, 1.3, 1.5, 0.8, 1.9, 1.4, 1.1, 1.7, 2.4, 1.3, 1.6, 1.0, 1.8, 1.5, 1.2, 2.0],
    [0.8, 1.5, 1.0, 1.8, 0.6, 1.2, 1.4, 0.9, 2.0, 1.1, 0.7, 1.3, 1.6, 1.0, 0.5, 1.4, 1.2, 1.9, 0.8, 1.1, 1.5, 0.9, 1.3, 0.4, 1.2, 1.7, 1.0, 1.4, 0.8, 1.6,
     1.1, 2.1, 0.9, 1.3, 1.0, 1.5, 0.7, 1.2, 1.4, 1.0, 1.3, 0.7, 1.6, 1.0, 1.2, 0.5, 1.8, 1.1, 0.9, 1.4, 1.0, 2.2, 0.8, 1.3, 1.5, 0.6, 1.1, 1.7, 0.9, 1.2],
    [1.4, 0.7, 1.2, 0.9, 1.6, 1.0, 0.5, 1.3, 1.1, 1.8, 0.8, 1.2, 0.6, 1.5, 1.0, 1.3, 0.9, 1.7, 1.1, 0.4, 1.2, 1.5, 0.8, 1.0, 1.9, 1.1, 0.7, 1.4, 1.2, 0.9,
     1.6, 1.0, 1.3, 0.6, 1.1, 1.5, 0.9, 1.2, 1.7, 1.0, 0.9, 1.5, 1.2, 0.6, 1.4, 1.0, 1.8, 0.8, 1.3, 1.1, 0.5, 1.6, 1.0, 1.3, 0.8, 1.9, 1.2, 0.7, 1.4, 1.1],
    [0.3, 1.0, 0.6, 1.4, 0.2, 0.8, 0.5, 1.1, 0.7, -0.1, 0.9, 0.4, 1.2, 0.6, 0.8, 1.6, 0.3, 0.7, 1.0, 0.5, 0.1, 0.9, 0.6, 1.3, 0.4, 0.8, 0.7, 1.1, 0.2, 0.6,
     1.0, 0.5, 0.9, 1.5, 0.3, 0.7, 0.4, 1.1, 0.8, 0.6, 0.9, 0.4, 1.2, 0.6, 0.0, 0.8, 1.3, 0.5, 0.7, 1.7, 0.3, 0.9, 0.6, 1.1, 0.2, 0.8, 1.4, 0.5, 0.7, 1.0],
    [-0.8, -1.6, -1.0, -2.1, -0.5, -1.3, -0.9, -1.8, -1.1, -0.3, -1.5, -2.6, -1.0, -1.4, -0.7, -1.9, -1.2, -0.6, -1.7, -1.1, -2.3, -0.9, -1.3, -0.4,
     -1.6, -1.0, -2.0, -1.2, -0.8, -5.5, -1.5, -1.1, -0.7, -1.8, -1.3, -0.9, -2.2, -1.0, -1.4, -0.6, -1.3, -0.7, -1.9, -1.0, -1.5, -0.5, -1.2, -2.4,
     -0.9, -1.4, -1.1, -0.6, -1.7, -1.0, -3.3, -1.2, -0.8, -1.6, -1.3, -0.9],
    [-1.9, -1.1, -1.6, -0.7, -2.3, -1.4, -1.8, -1.0, -2.7, -1.3, -1.7, -0.9, -2.0, -1.5, -3.4, -1.2, -1.8, -2.4, -1.1, -1.6, -0.8, -2.1, -1.4, -1.9,
     -3.0, -1.2, -1.6, -2.2, -1.0, -1.7, -1.3, -2.5, -1.5, -0.9, -1.8, -2.0, -1.2, -3.6, -1.5, -1.1, -1.4, -2.1, -1.0, -1.7, -2.8, -1.3, -0.8, -1.9,
     -1.5, -2.3, -1.1, -1.6, -3.8, -1.4, -2.0, -1.2, -1.7, -0.9, -2.5, -1.5],
    [0.2, -0.6, 0.5, -0.2, -0.9, 0.1, -0.4, 0.8, -0.5, -1.2, 0.0, -0.3, 0.6, -0.7, -0.1, 0.4, -1.0, -0.3, 0.3, -0.6, 1.0, -0.2, -0.8, 0.1, -0.4, 0.7,
     -0.5, -1.3, 0.2, -0.3, 0.5, -0.7, -0.1, 0.3, -0.9, -0.2, 0.6, -0.5, 0.0, -0.4, -0.6, 0.2, -0.3, 0.8, -0.8, -0.1, 0.4, -0.5, -1.1, 0.1, -0.3, 0.6,
     -0.7, -0.2, 0.3, -0.9, 0.0, -0.4, 0.5, -0.6],
    [-0.8, 0.1, -0.5, -1.3, 0.3, -0.4, -0.9, 0.0, -0.6, -1.5, -0.2, -0.7, 0.4, -0.3, -1.1, -0.5, 0.2, -0.9, -0.4, -2.8, -0.1, -0.6, 0.5, -0.8, -0.3,
     -1.2, -0.5, 0.1, -0.7, -0.2, -1.0, -0.4, 0.3, -0.6, -1.4, -0.3, 0.0, -0.8, -0.5, -0.1, -0.3, -1.0, 0.2, -0.6, -1.6, -0.4, 0.1, -0.8, -0.2, -1.2,
     -0.5, 0.4, -0.7, -0.3, -1.9, -0.4, 0.0, -0.9, -0.6, -0.2],
    [-0.2, -1.0, -0.4, 0.3, -0.8, -0.5, -1.3, -0.1, -0.6, -0.9, 0.2, -0.7, -0.3, -1.1, -0.5, -0.2, -0.8, 0.1, -0.6, -1.2, -0.4, -0.7, -0.2, -1.0, -0.5,
     0.4, -0.8, -0.3, -0.6, -1.4, -0.1, -0.7, -0.4, -0.9, 0.0, -0.6, -1.1, -0.3, -0.5, -0.8, -0.6, -1.2, -0.2, -0.9, -0.5, 0.1, -0.8, -1.5, -0.4, -0.7,
     -0.1, -1.0, -0.6, -0.3, -1.3, -0.5, 0.2, -0.9, -0.7, -0.4],
]

# ---------------- lam (many components) ----------------
LAM_X = [0, 0.3, 0.7, 1.2, 2, 3, 4.5, 6.5, 9, 12, 16, 20, 25, 30, 35, 40, 46, 52, 60]
LAM_COLOR = [C7, C5, C1, C0, C9, C8, C8, C6, C4, C5, C3, C2, C0, C9, C7]
LAM_KDE = [
    [1.0, 0.45, 0.15, 0.06, 0.03, 0.02, 0.01, 0.005, 0, 0, 0, 0, 0, 0, 0, 0, 0, 0, 0],
    [0.95, 0.5, 0.2, 0.08, 0.03, 0.01, 0, 0, 0, 0, 0, 0, 0, 0, 0, 0, 0, 0, 0],
    [0.85, 0.6, 0.28, 0.12, 0.05, 0.02, 0.005, 0, 0, 0, 0, 0, 0, 0, 0, 0, 0, 0, 0],
    [0.8, 0.5, 0.2, 0.08, 0.03, 0.01, 0, 0, 0, 0, 0, 0, 0, 0, 0, 0, 0, 0, 0],
    [0.6, 0.65, 0.4, 0.2, 0.08, 0.03, 0.01, 0, 0, 0, 0, 0, 0, 0, 0, 0, 0, 0, 0],
    [0.2, 0.3, 0.36, 0.3, 0.18, 0.1, 0.04, 0.01, 0, 0, 0, 0, 0, 0, 0, 0, 0, 0, 0],
    [0.3, 0.35, 0.3, 0.2, 0.12, 0.07, 0.04, 0.02, 0.01, 0, 0, 0, 0, 0, 0, 0, 0, 0, 0],
    [0.1, 0.15, 0.18, 0.19, 0.17, 0.13, 0.08, 0.04, 0.015, 0.005, 0, 0, 0, 0, 0, 0, 0, 0, 0],
    [0.03, 0.05, 0.08, 0.1, 0.13, 0.16, 0.15, 0.11, 0.06, 0.03, 0.01, 0, 0, 0, 0, 0, 0, 0, 0],
    [0.06, 0.09, 0.13, 0.16, 0.18, 0.17, 0.13, 0.08, 0.04, 0.015, 0.005, 0, 0, 0, 0, 0, 0, 0, 0],
    [0.05, 0.07, 0.1, 0.12, 0.12, 0.11, 0.09, 0.07, 0.05, 0.04, 0.045, 0.04, 0.025, 0.01, 0.005, 0, 0, 0, 0],
    [0.03, 0.04, 0.05, 0.06, 0.08, 0.1, 0.1, 0.095, 0.09, 0.085, 0.08, 0.07, 0.05, 0.03, 0.012, 0.004, 0, 0, 0],
    [0.005, 0.01, 0.015, 0.02, 0.03, 0.035, 0.04, 0.045, 0.05, 0.055, 0.06, 0.06, 0.058, 0.05, 0.035, 0.018, 0.006, 0, 0],
    [0.005, 0.01, 0.015, 0.02, 0.03, 0.035, 0.04, 0.045, 0.05, 0.055, 0.058, 0.06, 0.055, 0.048, 0.035, 0.018, 0.006, 0, 0],
    [0.002, 0.003, 0.005, 0.007, 0.01, 0.013, 0.016, 0.02, 0.025, 0.03, 0.033, 0.036, 0.04, 0.042, 0.04, 0.033, 0.02, 0.007, 0],
]
LAM_TRACE_COLOR = [C7, C2, C5, C1, C3, C8, C6, C4, C9, C0, C0, C0, C9]
LAM_TRACE = [
    [38, 29, 44, 33, 47, 31, 40, 52, 28, 36, 43, 34, 49, 30, 39, 57, 32, 41, 35, 46, 29, 38, 53, 33, 42, 31, 37, 48, 34, 40,
     28, 45, 36, 55, 32, 39, 44, 30, 41, 35, 36, 47, 31, 42, 58, 34, 40, 29, 45, 37, 51, 33, 39, 44, 30, 48, 35, 41, 53, 38],
    [10, 13, 9, 15, 11, 8, 12, 14, 10, 17, 9, 12, 11, 7, 13, 10, 15, 12, 9, 11, 14, 8, 12, 10, 16, 11, 9, 13, 10, 12,
     8, 14, 11, 9, 13, 10, 15, 12, 9, 11, 12, 9, 14, 10, 8, 13, 11, 16, 9, 12, 10, 14, 8, 11, 13, 9, 12, 15, 10, 11],
    [9, 12, 8, 11, 14, 9, 10, 7, 13, 10, 12, 8, 11, 16, 9, 10, 13, 8, 11, 9, 12, 10, 7, 14, 9, 11, 10, 13, 8, 12,
     9, 11, 15, 10, 8, 12, 9, 11, 10, 13, 11, 8, 13, 10, 9, 12, 7, 14, 10, 11, 9, 13, 8, 12, 10, 16, 9, 11, 8, 12],
    [6, 8, 5, 7, 4, 6, 9, 5, 7, 6, 4, 8, 6, 5, 7, 10, 5, 6, 8, 4, 7, 6, 5, 9, 6, 7, 4, 6, 8, 5,
     7, 6, 5, 8, 6, 4, 7, 5, 6, 8, 7, 5, 6, 8, 4, 6, 5, 9, 6, 7, 5, 4, 8, 6, 5, 7, 6, 4, 8, 5],
    [4, 5, 3, 6, 4, 2, 5, 4, 7, 3, 4, 5, 3, 6, 4, 5, 2, 4, 6, 3, 5, 4, 8, 3, 4, 5, 3, 6, 4, 2,
     5, 4, 6, 3, 5, 4, 3, 5, 4, 6, 5, 3, 4, 6, 3, 5, 4, 2, 6, 4, 5, 3, 7, 4, 3, 5, 4, 6, 3, 4],
    [5, 7, 4, 6, 8, 5, 3, 6, 5, 7, 4, 9, 5, 6, 3, 7, 5, 4, 6, 8, 5, 7, 4, 6, 5, 3, 7, 6, 5, 8,
     4, 6, 5, 7, 3, 6, 5, 8, 4, 6, 6, 4, 7, 5, 8, 4, 6, 5, 3, 7, 5, 6, 4, 8, 5, 6, 3, 7, 5, 6],
    [2, 3, 1, 2, 4, 2, 1, 3, 2, 1, 3, 2, 5, 1, 2, 3, 2, 1, 2, 4, 2, 3, 1, 2, 3, 1, 2, 4, 2, 1,
     3, 2, 2, 1, 3, 2, 4, 1, 2, 3, 2, 1, 3, 2, 4, 1, 2, 3, 1, 2, 5, 2, 1, 3, 2, 1, 2, 4, 2, 3],
    [1, 2, 1, 0.5, 1.5, 1, 2.5, 0.8, 1.2, 1, 1.8, 0.6, 1, 1.4, 0.7, 2, 1, 0.9, 1.6, 1, 0.5, 1.3, 1, 2.2, 0.8, 1.1, 1.5, 0.7, 1, 1.9,
     0.9, 1.2, 0.6, 1.4, 1, 1.7, 0.8, 1.1, 1.3, 1, 1.2, 0.7, 1.5, 1, 0.8, 2, 1.1, 0.6, 1.4, 0.9, 1.7, 1, 0.5, 1.3, 1, 2.1, 0.8, 1.2, 0.9, 1.5],
    [15, 21, 17, 24, 13, 19, 22, 16, 20, 12, 18, 25, 16, 21, 14, 19, 23, 17, 20, 11, 18, 22, 15, 26, 17, 19, 14, 21, 18, 23,
     16, 20, 13, 19, 24, 17, 15, 21, 18, 16, 19, 14, 22, 17, 25, 15, 20, 18, 13, 21, 16, 24, 19, 14, 20, 17, 22, 15, 19, 18],
    [17, 24, 20, 13, 26, 19, 22, 16, 28, 21, 18, 25, 14, 23, 20, 27, 17, 21, 30, 19, 24, 15, 22, 18, 26, 20, 23, 12, 25, 19,
     21, 28, 16, 22, 24, 18, 20, 27, 15, 21, 23, 17, 26, 19, 21, 29, 16, 24, 20, 18, 27, 22, 14, 25, 19, 23, 17, 28, 21, 20],
    [30, 24, 35, 27, 32, 22, 29, 38, 25, 31, 27, 41, 23, 30, 34, 26, 21, 33, 28, 36, 24, 31, 27, 37, 22, 29, 33, 26, 30, 25,
     39, 28, 23, 32, 27, 35, 29, 24, 31, 28, 33, 26, 30, 22, 36, 28, 25, 34, 29, 31, 23, 37, 27, 30, 26, 32, 24, 35, 28, 30],
    [26, 18, 31, 22, 28, 16, 25, 33, 20, 27, 23, 36, 19, 24, 29, 21, 17, 30, 24, 26, 14, 28, 22, 34, 20, 25, 31, 18, 27, 23,
     29, 15, 26, 32, 21, 24, 19, 30, 22, 27, 25, 20, 32, 23, 28, 18, 26, 35, 21, 27, 24, 19, 30, 22, 26, 16, 29, 24, 33, 23],
    [0.8, 1.4, 0.5, 1.0, 0.3, 1.2, 0.7, 0.9, 1.6, 0.4, 0.8, 1.1, 0.6, 1.3, 0.2, 0.9, 0.7, 1.5, 0.5, 1.0, 0.8, 0.4, 1.2, 0.6, 1.0, 0.3, 0.9, 1.4, 0.7, 0.5,
     1.1, 0.8, 0.6, 1.3, 0.4, 0.9, 0.7, 1.2, 0.5, 1.0, 0.6, 1.1, 0.4, 0.9, 1.3, 0.7, 0.5, 1.0, 0.8, 1.5, 0.3, 0.9, 0.7, 1.2, 0.5, 1.0, 0.8, 0.4, 1.1, 0.7],
]

# axis settings per row: (left x range, left dtick, left tick0, left fmt, right y range, right dtick, right fmt)
AXES = [
    ([-1.31, 3.84], 1, 0, "", [-1.35, 3.96], 2, ""),
    ([-4.40, 3.19], 1, 0, "", [-4.63, 3.32], 2, ""),
    ([0.08, 4.46], 0.5, 0.5, ".1f", [0.13, 4.47], 2, ""),
    ([0.616, 1.511], 0.1, 0.7, ".1f", [0.618, 1.533], 0.25, ".2f"),
    ([-4.16, 4.07], 1, 0, "", [-4.07, 4.01], 2.5, ".1f"),
    ([-6.1, 4.9], 2, 0, "", [-6.0, 4.9], 5, ""),
    ([-3.1, 63.2], 10, 0, "", [-2.9, 64.4], 20, ""),
]

# panel positions in page pixels; the page body adds an 8px margin,
# so the figure itself is 16px smaller than the 1188 x 1389 window
PAGE_MARGIN = 8
W, H = 1188 - 2 * PAGE_MARGIN, 1389 - 2 * PAGE_MARGIN
LEFT_X = [(15 - PAGE_MARGIN) / W, (567 - PAGE_MARGIN) / W]
RIGHT_X = [(628 - PAGE_MARGIN) / W, (1179 - PAGE_MARGIN) / W]
ROW_TOP = [30, 228, 425, 623, 821, 1019, 1216]
ROW_H = 138

fig = make_subplots(rows=7, cols=2)


def add_kde(row, xs, ys, color, dash, width=1.3, smooth=0.8):
    fig.add_trace(go.Scatter(
        x=xs, y=ys, mode="lines",
        line=dict(color=color, dash=dash, width=width, shape="spline", smoothing=smooth),
        hoverinfo="skip", showlegend=False), row=row, col=1)


def add_chain(row, vals, color, dash, alpha=0.45, width=1.7):
    draws = np.linspace(0, 999, len(vals))
    fig.add_trace(go.Scatter(
        x=draws, y=vals, mode="lines",
        line=dict(color=color, dash=dash, width=width),
        opacity=alpha, hoverinfo="skip", showlegend=False), row=row, col=2)


kde_max = [0] * 7

# scalar parameters: 4 chains each
scalars = [(B1_X, B1_KDE, B1_TRACE), (B2_X, B2_KDE, B2_TRACE),
           (SP_X, SP_KDE, SP_TRACE), (SI_X, SI_KDE, SI_TRACE)]
for r, (xs, kdes, traces) in enumerate(scalars):
    for c in range(4):
        add_kde(r + 1, xs, kdes[c], C0, CHAIN_DASH[c])
        kde_max[r] = max(kde_max[r], max(kdes[c]))
    for c in range(4):
        add_chain(r + 1, traces[c], C0, CHAIN_DASH[c])

# bP
for i, centre in enumerate(BP_CENTER):
    xs = [centre + o for o in KDE_OFFSETS]
    add_kde(5, xs, BP_KDE_A[i], BP_COLOR[i], CHAIN_DASH[0])
    add_kde(5, xs, BP_KDE_B[i], BP_COLOR[i], CHAIN_DASH[2 if i % 2 == 0 else 1])
    kde_max[4] = max(kde_max[4], max(BP_KDE_A[i]), max(BP_KDE_B[i]))
for i, vals in enumerate(BP_TRACE):
    add_chain(5, vals, BP_COLOR[i], "solid", alpha=0.55, width=2.4)

# bI, tails cut where the sampled values end
for i, centre in enumerate(BI_CENTER):
    pts = [(centre + o, y) for o, y in zip(KDE_OFFSETS, BI_KDE[i])
           if BI_X_LIMITS[0] <= centre + o <= BI_X_LIMITS[1]]
    add_kde(6, [p[0] for p in pts], [p[1] for p in pts], BI_COLOR[i], CHAIN_DASH[i % 4])
    kde_max[5] = max(kde_max[5], max(BI_KDE[i]))
for i, vals in enumerate(BI_TRACE):
    add_chain(6, vals, BI_TRACE_COLOR[i], "solid", alpha=0.55, width=2.4)

# lam
for i, ys in enumerate(LAM_KDE):
    add_kde(7, LAM_X, ys, LAM_COLOR[i], CHAIN_DASH[i % 4], smooth=0.4)
    kde_max[6] = max(kde_max[6], max(ys))
for i, vals in enumerate(LAM_TRACE):
    add_chain(7, vals, LAM_TRACE_COLOR[i], "solid", alpha=0.55, width=2.4)

# axes styling, matplotlib-like boxes
tick_font = dict(family="DejaVu Sans", size=13, color="black")
box = dict(showline=True, linecolor="black", linewidth=1, mirror=True,
           showgrid=False, zeroline=False, ticks="outside", ticklen=5,
           tickwidth=1, tickcolor="black", tickfont=tick_font)

annotations = []
for r in range(7):
    top = ROW_TOP[r] - PAGE_MARGIN
    y_dom = [1 - (top + ROW_H) / H, 1 - top / H]
    lx_rng, ldt, lt0, lfmt, ry_rng, rdt, rfmt = AXES[r]
    m = kde_max[r]

    fig.update_xaxes(domain=LEFT_X, range=lx_rng, dtick=ldt, tick0=lt0,
                     tickformat=lfmt, row=r + 1, col=1, **box)
    fig.update_yaxes(domain=y_dom, range=[-0.05 * m, 1.05 * m],
                     showticklabels=False, row=r + 1, col=1,
                     **{**box, "ticks": ""})
    fig.update_xaxes(domain=RIGHT_X, range=[0, 999], dtick=200, tick0=0,
                     row=r + 1, col=2, **box)
    fig.update_yaxes(domain=y_dom, range=ry_rng, dtick=rdt, tick0=0,
                     tickformat=rfmt, row=r + 1, col=2, **box)

    for xd in (LEFT_X, RIGHT_X):
        annotations.append(dict(
            text=TITLES[r], x=(xd[0] + xd[1]) / 2, y=1 - (top - 5) / H,
            xref="paper", yref="paper", xanchor="center", yanchor="bottom",
            showarrow=False, font=dict(family="DejaVu Sans", size=14, color="black")))

fig.update_layout(
    width=W, height=H,
    margin=dict(l=0, r=0, t=0, b=0),
    paper_bgcolor="white", plot_bgcolor="white",
    showlegend=False,
    annotations=annotations,
)

fig.write_html("out.html")
